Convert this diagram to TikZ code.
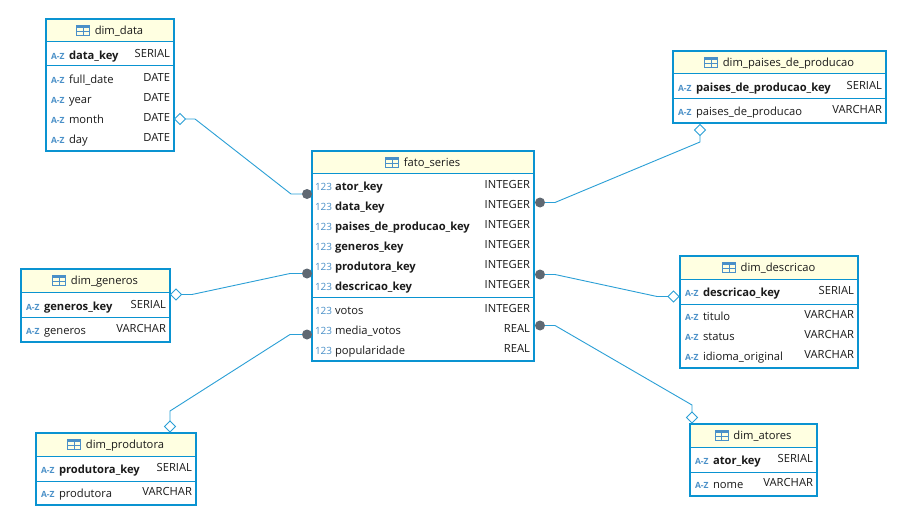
\documentclass[tikz,border=0pt]{standalone}
\usepackage{fontspec}
\setmainfont{Open Sans}
\usetikzlibrary{shapes.geometric}
\definecolor{frame}{HTML}{0A93D1}
\definecolor{conn}{HTML}{2A9FD6}
\definecolor{head}{HTML}{FFFFE1}
\definecolor{tag}{HTML}{4A90C8}
\definecolor{dotc}{HTML}{5F6872}
\definecolor{ink}{HTML}{1A1A1A}
\tikzset{
  x=1pt,y=-1pt,
  tablebox/.style={draw=frame,line width=2.4pt,inner sep=0pt,outer sep=0pt},
  headbox/.style={fill=head,inner sep=0pt,outer sep=0pt},
  sepline/.style={draw=frame,line width=1pt},
  txt/.style={inner sep=0pt,outer sep=0pt,text height=9pt,text depth=0.2pt,text=ink,font=\fontsize{11.2}{12}\selectfont},
  titletxt/.style={txt,anchor=center},
  keytxt/.style={txt,anchor=west,font=\fontsize{11.2}{12}\selectfont\bfseries},
  coltxt/.style={txt,anchor=west},
  typetxt/.style={txt,anchor=east},
  azt/.style={txt,anchor=west,text=tag,font=\fontsize{8.5}{12}\selectfont\bfseries},
  numt/.style={txt,anchor=west,text=tag,font=\fontsize{10}{12}\selectfont},
  icon/.style={draw=tag,line width=1pt},
  link/.style={draw=conn,line width=0.9pt},
  diam/.style={diamond,draw=conn,fill=white,line width=0.9pt,minimum size=11pt,inner sep=0pt,outer sep=0pt},
  fkdot/.style={circle,fill=dotc,minimum size=10pt,inner sep=0pt,outer sep=0pt},
}
\newcommand{\azttag}{A-Z}
\newcommand{\numttag}{123}
\newcommand{\aztoff}{5}
\newcommand{\numtoff}{3}
% name, x1, y1, x2, y2, header bottom, separator, title
\newcommand{\dbtable}[8]{%
  \pgfmathsetmacro{\cxx}{(#2+#4)/2}\pgfmathsetmacro{\wdd}{#4-#2}%
  \pgfmathsetmacro{\cyy}{(#3+#5)/2}\pgfmathsetmacro{\htt}{#5-#3}%
  \pgfmathsetmacro{\hyy}{(#3+#6)/2}\pgfmathsetmacro{\hhh}{#6-#3}%
  \node[headbox,minimum width=\wdd pt,minimum height=\hhh pt] (#1head) at (\cxx,\hyy) {};
  \draw[sepline] (#2,#6) -- (#4,#6);
  \draw[sepline] (#2,#7) -- (#4,#7);
  \node[tablebox,minimum width=\wdd pt,minimum height=\htt pt] (#1) at (\cxx,\cyy) {};
  \pgfmathsetmacro{\tcx}{\cxx+9}\pgfmathsetmacro{\tyy}{\hyy}%
  \node[titletxt] (#1title) at (\tcx,\tyy) {#8};
  \draw[icon] ([shift={(-18,-5)}]#1title.west) rectangle ([shift={(-5,5)}]#1title.west);
  \draw[icon,line width=2pt] ([shift={(-18,-3.5)}]#1title.west) -- ([shift={(-5,-3.5)}]#1title.west);
  \draw[icon] ([shift={(-18,1)}]#1title.west) -- ([shift={(-5,1)}]#1title.west);
  \draw[icon] ([shift={(-11.5,-3)}]#1title.west) -- ([shift={(-11.5,5)}]#1title.west);
}
% id, x1, x2, y, tag kind, name style, name, type
\newcommand{\colrow}[8]{%
  \pgfmathsetmacro{\px}{#2+\csname #5off\endcsname}\pgfmathsetmacro{\nx}{#2+23}\pgfmathsetmacro{\ty}{#4-2}\pgfmathsetmacro{\rx}{#3-4}%
  \node[#5] (#1t) at (\px,#4) {\csname #5tag\endcsname};
  \node[#6] (#1n) at (\nx,#4) {#7};
  \node[typetxt] (#1y) at (\rx,\ty) {#8};
}
\begin{document}
\begin{tikzpicture}
\useasboundingbox[fill=white] (0,0) rectangle (899,508);

\dbtable{data}{46}{19}{174}{151}{42}{66}{dim\_data}
\colrow{d1}{46}{174}{55}{azt}{keytxt}{data\_key}{SERIAL}
\colrow{d2}{46}{174}{79}{azt}{coltxt}{full\_date}{DATE}
\colrow{d3}{46}{174}{99}{azt}{coltxt}{year}{DATE}
\colrow{d4}{46}{174}{119}{azt}{coltxt}{month}{DATE}
\colrow{d5}{46}{174}{139}{azt}{coltxt}{day}{DATE}

\dbtable{fato}{312}{151}{534}{361}{173}{297}{fato\_series}
\colrow{f1}{312}{534}{186}{numt}{keytxt}{ator\_key}{INTEGER}
\colrow{f2}{312}{534}{206}{numt}{keytxt}{data\_key}{INTEGER}
\colrow{f3}{312}{534}{226}{numt}{keytxt}{paises\_de\_producao\_key}{INTEGER}
\colrow{f4}{312}{534}{246}{numt}{keytxt}{generos\_key}{INTEGER}
\colrow{f5}{312}{534}{266}{numt}{keytxt}{produtora\_key}{INTEGER}
\colrow{f6}{312}{534}{286}{numt}{keytxt}{descricao\_key}{INTEGER}
\colrow{f7}{312}{534}{310}{numt}{coltxt}{votos}{INTEGER}
\colrow{f8}{312}{534}{330}{numt}{coltxt}{media\_votos}{REAL}
\colrow{f9}{312}{534}{350}{numt}{coltxt}{popularidade}{REAL}

\dbtable{paises}{673}{51}{886}{123}{74}{98.5}{dim\_paises\_de\_producao}
\colrow{p1}{673}{886}{87}{azt}{keytxt}{paises\_de\_producao\_key}{SERIAL}
\colrow{p2}{673}{886}{111}{azt}{coltxt}{paises\_de\_producao}{VARCHAR}

\dbtable{generos}{21}{269}{170}{342}{292}{317}{dim\_generos}
\colrow{g1}{21}{170}{306}{azt}{keytxt}{generos\_key}{SERIAL}
\colrow{g2}{21}{170}{330}{azt}{coltxt}{generos}{VARCHAR}

\dbtable{produtora}{36}{433}{196}{505}{456}{481}{dim\_produtora}
\colrow{r1}{36}{196}{469}{azt}{keytxt}{produtora\_key}{SERIAL}
\colrow{r2}{36}{196}{493}{azt}{coltxt}{produtora}{VARCHAR}

\dbtable{descricao}{680}{256}{858}{368}{279}{304}{dim\_descricao}
\colrow{e1}{680}{858}{292}{azt}{keytxt}{descricao\_key}{SERIAL}
\colrow{e2}{680}{858}{316}{azt}{coltxt}{titulo}{VARCHAR}
\colrow{e3}{680}{858}{336}{azt}{coltxt}{status}{VARCHAR}
\colrow{e4}{680}{858}{356}{azt}{coltxt}{idioma\_original}{VARCHAR}

\dbtable{atores}{690}{424}{817}{496}{447}{472}{dim\_atores}
\colrow{a1}{690}{817}{460}{azt}{keytxt}{ator\_key}{SERIAL}
\colrow{a2}{690}{817}{484}{azt}{coltxt}{nome}{VARCHAR}

% end markers
\node[diam] (dmdata) at (180,119) {};
\node[diam] (dmpaises) at (700,130) {};
\node[diam] (dmgeneros) at (176,294.5) {};
\node[diam] (dmprod) at (170,426.5) {};
\node[diam] (dmdesc) at (673.5,296.5) {};
\node[diam] (dmator) at (692,417.5) {};
\node[fkdot] (fkdata) at (307,194) {};
\node[fkdot] (fkpaises) at (540,202.5) {};
\node[fkdot] (fkgeneros) at (307,273.5) {};
\node[fkdot] (fkprod) at (307,334.5) {};
\node[fkdot] (fkdesc) at (540,274.5) {};
\node[fkdot] (fkator) at (540,325.5) {};

% bends
\coordinate (b1a) at (195,119); \coordinate (b1b) at (291,194);
\coordinate (b2a) at (700,142); \coordinate (b2b) at (555,202.5);
\coordinate (b3a) at (192,294.5); \coordinate (b3b) at (290,273.5);
\coordinate (b4a) at (170,411); \coordinate (b4b) at (290,334.5);
\coordinate (b5a) at (657,296.5); \coordinate (b5b) at (555,274.5);
\coordinate (b6a) at (692,405); \coordinate (b6b) at (555,325.5);

\draw[link] (dmdata) -- (b1a) -- (b1b) -- (fkdata);
\draw[link] (dmpaises) -- (b2a) -- (b2b) -- (fkpaises);
\draw[link] (dmgeneros) -- (b3a) -- (b3b) -- (fkgeneros);
\draw[link] (dmprod) -- (b4a) -- (b4b) -- (fkprod);
\draw[link] (dmdesc) -- (b5a) -- (b5b) -- (fkdesc);
\draw[link] (dmator) -- (b6a) -- (b6b) -- (fkator);
\end{tikzpicture}
\end{document}
